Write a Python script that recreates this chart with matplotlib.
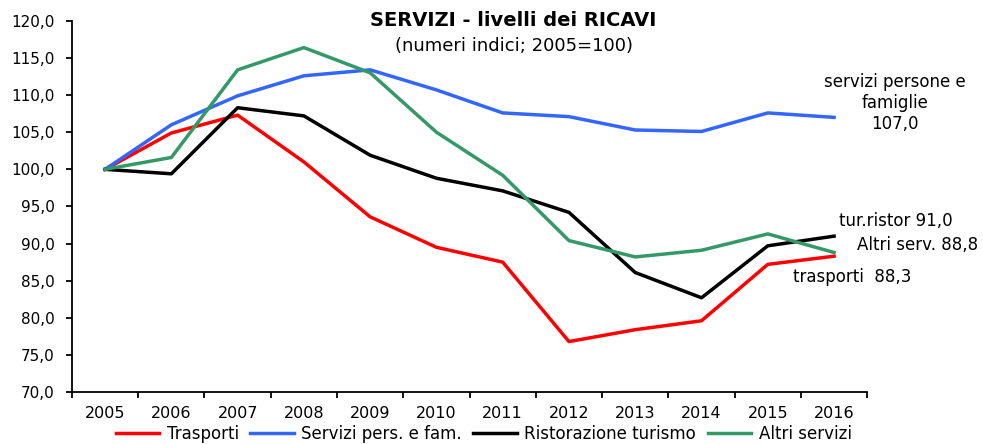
import matplotlib.pyplot as plt
from matplotlib.ticker import FuncFormatter, FixedLocator

plt.rcParams['font.family'] = ['DejaVu Sans']

anni = ['2005', '2006', '2007', '2008', '2009', '2010', '2011', '2012',
        '2013', '2014', '2015', '2016']
trasporti = [100.0, 104.9, 107.3, 101.0, 93.6, 89.5, 87.5, 76.8, 78.4, 79.6, 87.2, 88.3]
servizi_pers = [100.0, 106.0, 109.9, 112.6, 113.4, 110.7, 107.6, 107.1, 105.3, 105.1, 107.6, 107.0]
ristorazione = [100.0, 99.4, 108.3, 107.2, 101.9, 98.8, 97.1, 94.2, 86.1, 82.7, 89.7, 91.0]
altri = [100.0, 101.6, 113.4, 116.4, 113.0, 105.0, 99.2, 90.4, 88.2, 89.1, 91.3, 88.8]

fig = plt.figure(figsize=(9.83, 4.44), dpi=100)
ax = fig.add_axes([0.0732, 0.117, 0.809, 0.836])

x = range(len(anni))
lw = 2.5
ax.plot(x, trasporti, color='#ff0000', lw=lw, label='Trasporti')
ax.plot(x, servizi_pers, color='#3366ff', lw=lw, label='Servizi pers. e fam.')
ax.plot(x, ristorazione, color='#000000', lw=lw, label='Ristorazione turismo')
ax.plot(x, altri, color='#339966', lw=lw, label='Altri servizi')

ax.set_xlim(-0.5, len(anni) - 0.5)
ax.set_ylim(70, 120)
ax.set_yticks(range(70, 121, 5))
ax.yaxis.set_major_formatter(FuncFormatter(lambda v, p: ('%.1f' % v).replace('.', ',')))
ax.set_xticks(list(x))
ax.set_xticklabels(anni)
ax.xaxis.set_minor_locator(FixedLocator([i - 0.5 for i in range(len(anni) + 1)]))
ax.tick_params(axis='x', which='major', length=0, pad=10, labelsize=11.5)
ax.tick_params(axis='x', which='minor', length=4.5, width=1.3, direction='out')
ax.tick_params(axis='y', length=4.5, width=1.3, direction='out', labelsize=11, pad=8)
ax.spines['right'].set_visible(False)
ax.spines['top'].set_visible(False)
ax.spines['left'].set_linewidth(1.3)
ax.spines['bottom'].set_linewidth(1.3)

fig.text(0.522, 0.953, 'SERVIZI - livelli dei RICAVI', ha='center', va='center',
         fontsize=14, fontweight='bold')
fig.text(0.523, 0.897, '(numeri indici; 2005=100)', ha='center', va='center', fontsize=13)

ax.text(11.92, 108.9, 'servizi persone e\nfamiglie\n107,0', ha='center', va='center',
        fontsize=12, linespacing=1.2)
ax.text(11.08, 93.0, 'tur.ristor 91,0', ha='left', va='center', fontsize=12)
ax.text(11.35, 89.8, 'Altri serv. 88,8', ha='left', va='center', fontsize=12)
ax.text(10.38, 85.5, 'trasporti  88,3', ha='left', va='center', fontsize=12)

fig.legend(loc='center', bbox_to_anchor=(0.492, 0.022), ncol=4, frameon=False,
           fontsize=12, handlelength=2.6, handletextpad=0.45, columnspacing=0.7)

fig.savefig('out.png', dpi=100)
